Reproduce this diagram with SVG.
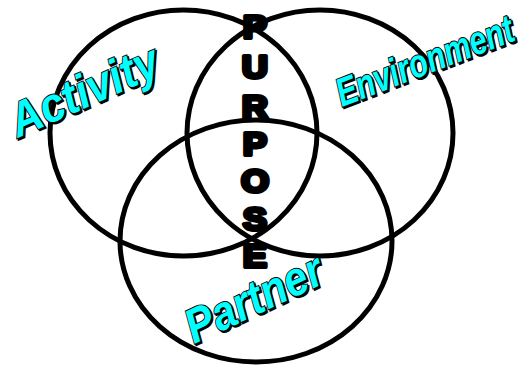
<svg xmlns="http://www.w3.org/2000/svg" width="527" height="366" viewBox="0 0 527 366">
<style>
.c{fill:none;stroke:#000;stroke-width:5}
.lbl{font-family:"Liberation Sans",Arial,sans-serif;font-weight:bold;font-style:italic;fill:#00FFFF;stroke:#000;stroke-width:1.6;paint-order:stroke}
.sh{font-family:"Liberation Sans",Arial,sans-serif;font-weight:bold;font-style:italic;fill:#000;stroke:#000;stroke-width:1.6}
.pur{font-family:"Liberation Sans",Arial,sans-serif;font-weight:bold;fill:#000;stroke:#000;stroke-width:4;stroke-linejoin:round;text-anchor:middle;font-size:31px}
</style>
<rect width="527" height="366" fill="#fff"/>
<g id="connectors"></g>
<g id="activity-circle"><ellipse class="c" cx="183.5" cy="133" rx="133.5" ry="123"/></g>
<g id="environment-circle"><ellipse class="c" cx="320" cy="133" rx="133" ry="123"/></g>
<g id="partner-circle"><ellipse class="c" cx="256" cy="241" rx="136" ry="121"/></g>
<g id="activity-label">
<text class="sh" font-size="40" transform="translate(19.5,139.5) rotate(-24) scale(1.1,1.2)">Activity</text>
<text class="lbl" font-size="40" transform="translate(18,138) rotate(-24) scale(1.1,1.2)">Activity</text>
</g>
<g id="environment-label">
<text class="sh" font-size="31" transform="translate(343.5,108.5) rotate(-21) scale(0.99,1.28)">Environment</text>
<text class="lbl" font-size="31" transform="translate(342,107) rotate(-21) scale(0.99,1.28)">Environment</text>
</g>
<g id="partner-label">
<text class="sh" font-size="40" transform="translate(195.5,345.5) rotate(-25) scale(1.05,1.2)">Partner</text>
<text class="lbl" font-size="40" transform="translate(194,344) rotate(-25) scale(1.05,1.2)">Partner</text>
</g>
<g id="purpose-label">
<text class="pur" x="255" y="38" transform="translate(255,0) scale(1.15,1) translate(-255,0)">P</text>
<text class="pur" x="255" y="78" transform="translate(255,0) scale(1.15,1) translate(-255,0)">U</text>
<text class="pur" x="255" y="118" transform="translate(255,0) scale(1.15,1) translate(-255,0)">R</text>
<text class="pur" x="255" y="155" transform="translate(255,0) scale(1.15,1) translate(-255,0)">P</text>
<text class="pur" x="255" y="192" transform="translate(255,0) scale(1.15,1) translate(-255,0)">O</text>
<text class="pur" x="255" y="230" transform="translate(255,0) scale(1.15,1) translate(-255,0)">S</text>
<text class="pur" x="255" y="267" transform="translate(255,0) scale(1.15,1) translate(-255,0)">E</text>
</g>
</svg>
